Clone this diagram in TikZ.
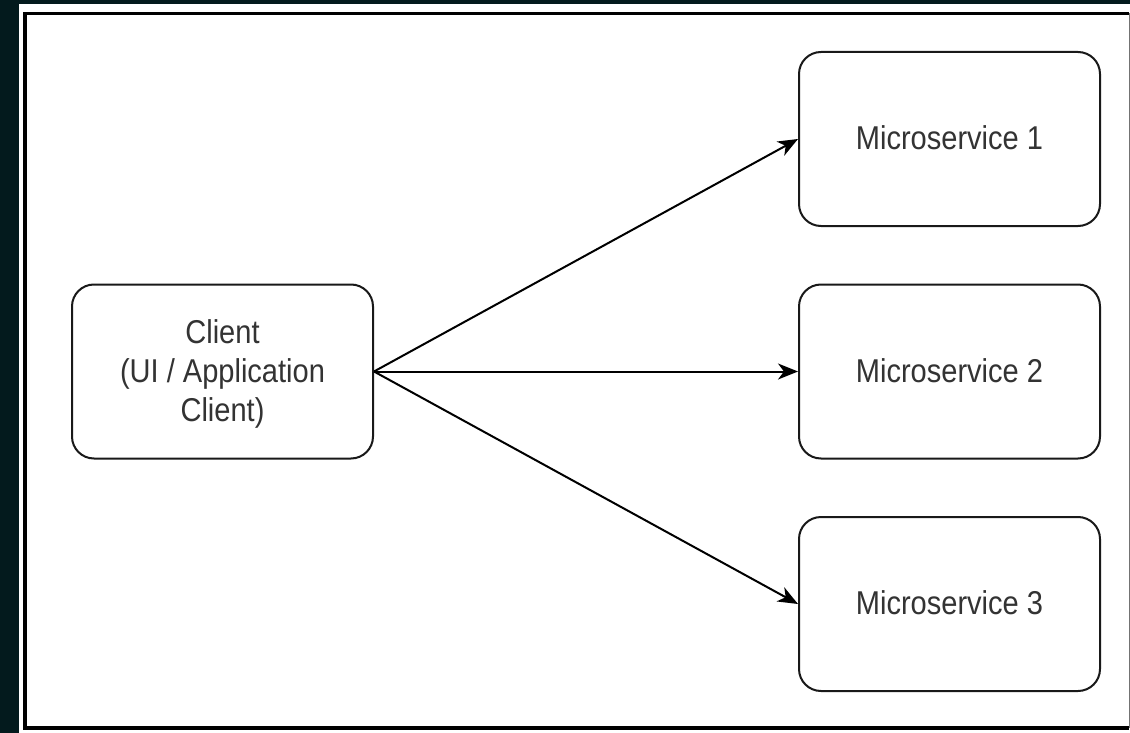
\documentclass[tikz,border=0pt]{standalone}
\usepackage{fontspec}
\setmainfont{Liberation Sans}
\usetikzlibrary{arrows.meta}
\definecolor{bgdark}{HTML}{031A1D}
\definecolor{labelgray}{HTML}{333333}
% condensed label text, centred lines, set a little low in the box
\newcommand{\boxlabel}[1]{\raisebox{-3pt}[\height][\depth]{\scalebox{0.88}[1]{\begin{tabular}{@{}c@{}}#1\end{tabular}}}}
\tikzset{
  svcbox/.style={draw=black!90, line width=2pt, rounded corners=22pt,
    minimum width=301pt, minimum height=174pt, align=center, inner sep=0pt,
    text=labelgray, font=\fontsize{33}{39}\selectfont},
  flow/.style={draw=black, line width=2pt,
    -{Stealth[length=20pt, width=16pt, inset=6pt]}}
}
\begin{document}
\begin{tikzpicture}[x=1pt, y=-1pt]
  % page and dark surround
  \fill[bgdark] (0,0) rectangle (1130,733);
  \useasboundingbox (0,0) rectangle (1130,733);
  \fill[white] (19,4) rectangle (1130,733);
  % outer frame
  \draw[black, line width=3.5pt] (1129,13.5) -- (25,13.5) -- (25,728) -- (1129,728);
  \draw[black!55, line width=1pt] (1129.5,13.5) -- (1129.5,728);

  % boxes
  \node[svcbox] (client) at (222.5,371.5) {\boxlabel{Client\\(UI / Application\\Client)}};
  \node[svcbox] (ms1) at (949.5,139) {\boxlabel{Microservice 1}};
  \node[svcbox] (ms2) at (949.5,371.5) {\boxlabel{Microservice 2}};
  \node[svcbox] (ms3) at (949.5,604) {\boxlabel{Microservice 3}};

  % connectors
  \draw[flow] (client.east) -- (ms1.west);
  \draw[flow] (client.east) -- (ms2.west);
  \draw[flow] (client.east) -- (ms3.west);
\end{tikzpicture}
\end{document}
